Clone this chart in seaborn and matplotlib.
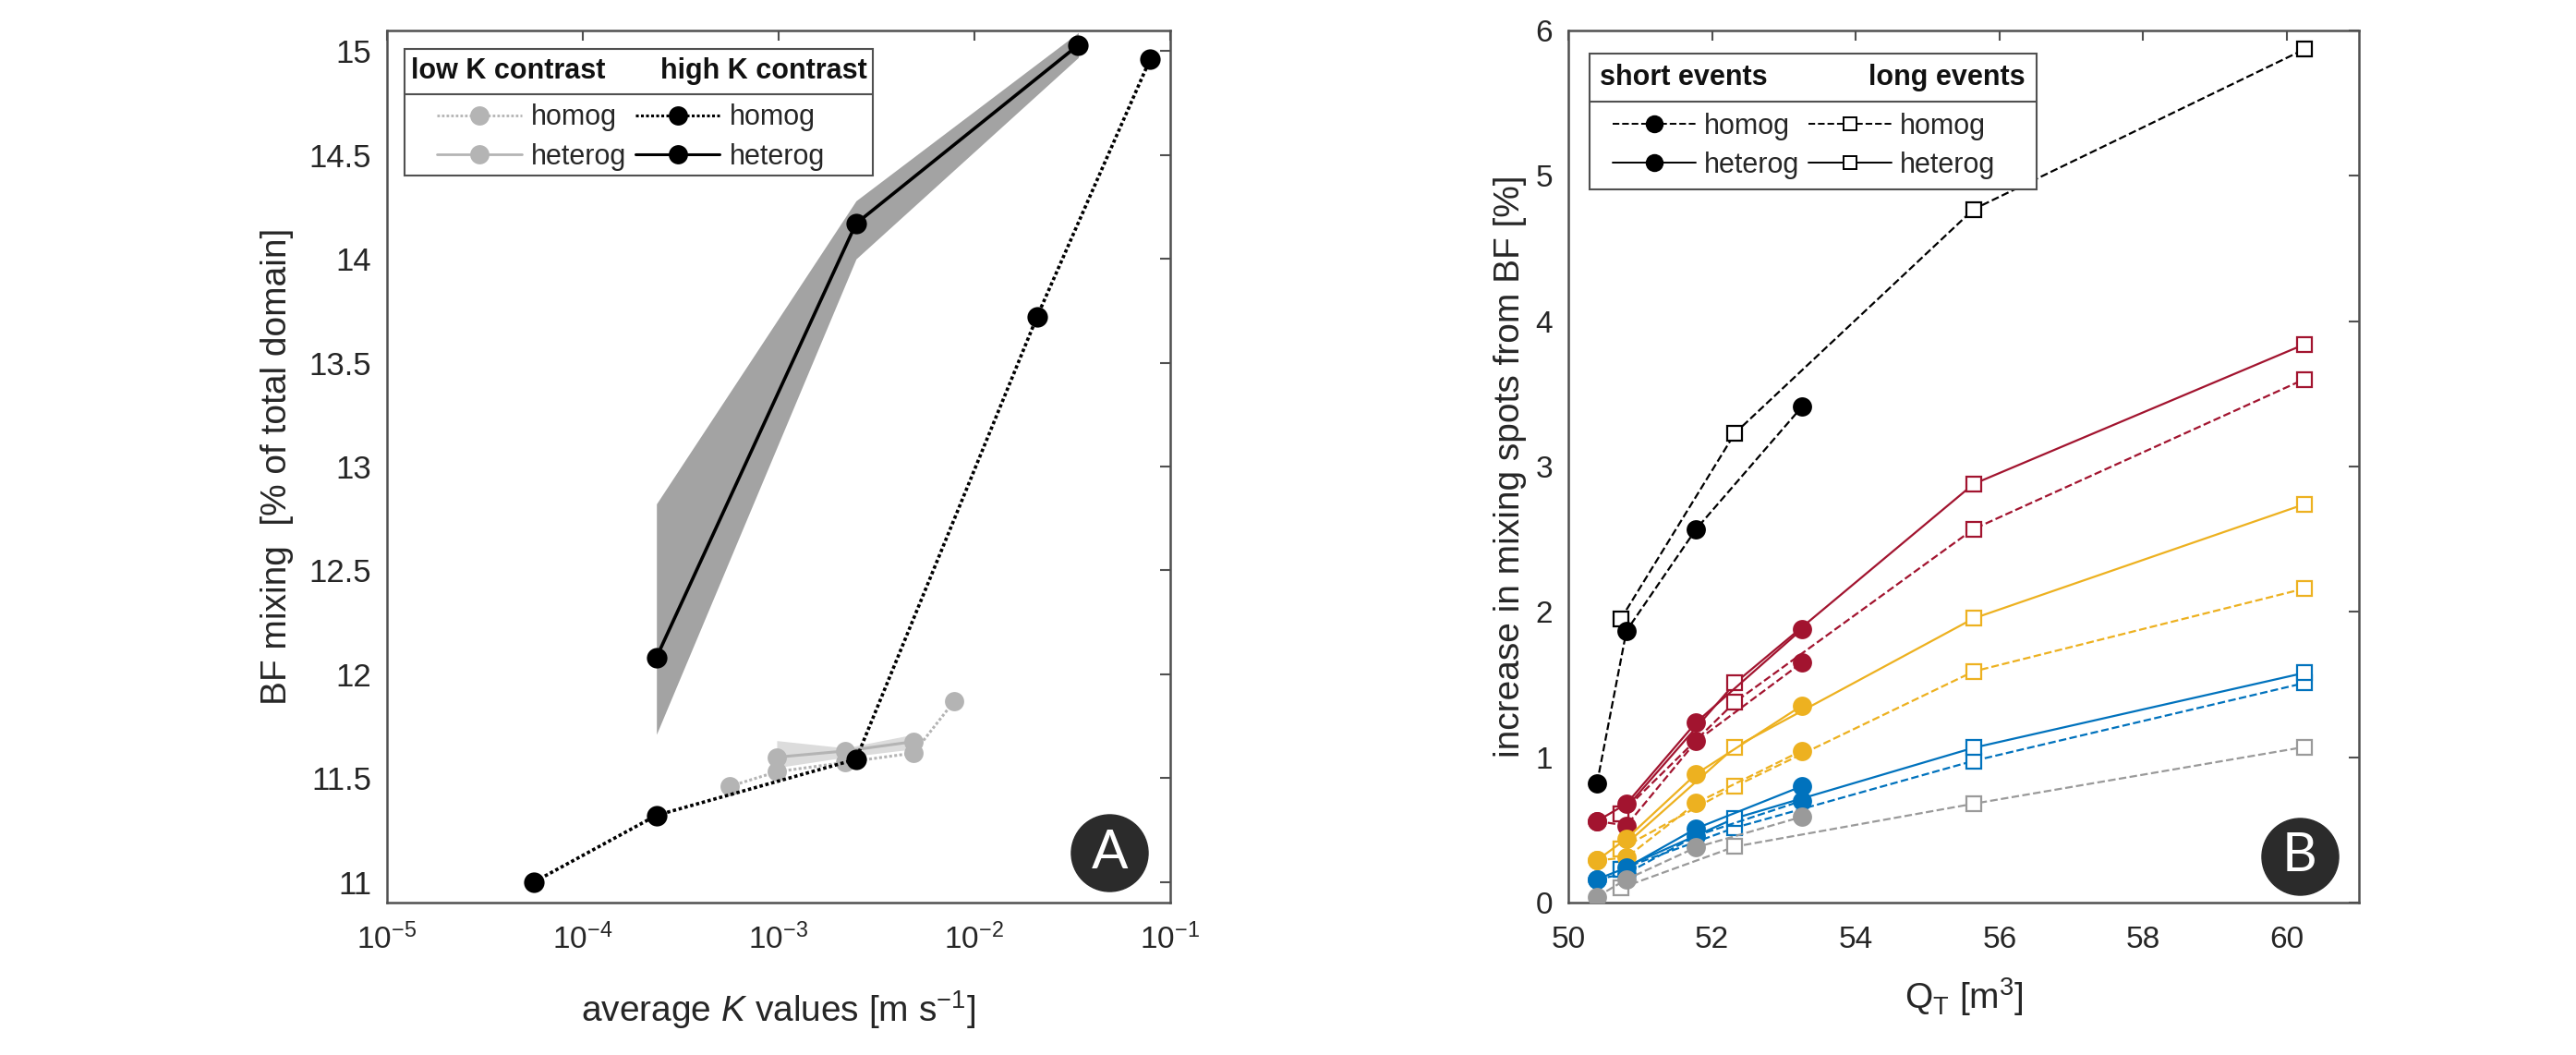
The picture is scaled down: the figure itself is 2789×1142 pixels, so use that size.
import numpy as np
import pandas as pd
import seaborn as sns
import matplotlib.pyplot as plt
from matplotlib.lines import Line2D
from matplotlib.patches import Rectangle
from matplotlib.ticker import FixedLocator, NullLocator, FuncFormatter, LogFormatterSciNotation

# -------------------------------
# Panel A data (average K vs BF mixing)
# -------------------------------
k_high_homog = [5.66e-5, 2.38e-4, 2.49e-3, 2.09e-2, 7.9e-2]
bf_high_homog = [11.00, 11.32, 11.59, 13.72, 14.96]
k_high_het = [2.38e-4, 2.49e-3, 3.4e-2]
bf_high_het = [12.08, 14.17, 15.03]
bf_high_het_lo = [11.71, 14.00, 14.97]
bf_high_het_hi = [12.82, 14.28, 15.09]

k_low_homog = [5.65e-4, 9.8e-4, 2.19e-3, 4.9e-3, 7.9e-3]
bf_low_homog = [11.46, 11.53, 11.575, 11.62, 11.87]
k_low_het = [9.8e-4, 2.19e-3, 4.9e-3]
bf_low_het = [11.60, 11.63, 11.675]
bf_low_het_lo = [11.55, 11.60, 11.64]
bf_low_het_hi = [11.68, 11.645, 11.71]

# -------------------------------
# Panel B data (Q_T vs increase in mixing spots)
# -------------------------------
qt_short = [50.40, 50.81, 51.78, 53.25]
qt_long = [50.73, 52.32, 55.64, 60.24]

black_short_homog = [0.82, 1.87, 2.57, 3.41]
black_long_homog = [1.95, 3.23, 4.77, 5.87]
red_short_homog = [0.56, 0.53, 1.11, 1.65]
red_short_het = [0.56, 0.68, 1.24, 1.88]
red_long_homog = [0.61, 1.38, 2.57, 3.60]
red_long_het = [0.61, 1.51, 2.88, 3.84]
yellow_short_homog = [0.29, 0.31, 0.685, 1.045]
yellow_short_het = [0.29, 0.44, 0.885, 1.355]
yellow_long_homog = [0.37, 0.80, 1.59, 2.16]
yellow_long_het = [0.37, 1.07, 1.955, 2.74]
blue_short_homog = [0.16, 0.20, 0.46, 0.70]
blue_short_het = [0.16, 0.24, 0.51, 0.80]
blue_long_homog = [0.23, 0.515, 0.975, 1.51]
blue_long_het = [0.23, 0.58, 1.065, 1.58]
grey_short_homog = [0.04, 0.16, 0.38, 0.59]
grey_long_homog = [0.10, 0.385, 0.68, 1.07]

# -------------------------------
# Style
# -------------------------------
sns.set_theme(style="white")
plt.rcParams['font.family'] = ['Liberation Sans', 'DejaVu Sans']
plt.rcParams['mathtext.fontset'] = 'custom'
plt.rcParams['mathtext.rm'] = 'Liberation Sans'
plt.rcParams['mathtext.it'] = 'Liberation Sans:italic'
plt.rcParams['axes.edgecolor'] = '#505050'
plt.rcParams['axes.linewidth'] = 1.8

frame_col = '#505050'
grey_mk = '#b4b4b4'
red = '#A2142F'
yellow = '#EDB120'
blue = '#0072BD'
grey_b = '#9a9a9a'
dotted = (0, (1.0, 0.8))

fig = plt.figure(figsize=(27.89, 11.42), dpi=100)
axA = fig.add_axes([0.1502, 0.1445, 0.3040, 0.8266])
axB = fig.add_axes([0.6088, 0.1445, 0.3069, 0.8266])


def style_axes(ax, xpad, ylabelsize):
    ax.tick_params(direction='in', length=8, width=1.5, color=frame_col,
                   top=True, right=True, labelsize=24, pad=12, labelcolor='#262626')
    ax.tick_params(axis='x', pad=xpad)
    ax.tick_params(axis='y', labelsize=ylabelsize)
    for s in ax.spines.values():
        s.set_color(frame_col)


def panel_badge(ax, x, y, letter):
    ax.scatter([x], [y], s=3576, color='#2b2b2b', transform=ax.transAxes, zorder=10, clip_on=False)
    ax.text(x, y, letter, transform=ax.transAxes, color='white', ha='center', va='center',
            fontsize=42, family=['Lato', 'DejaVu Sans'], zorder=11)


def legend_box(ax, x0, x1, y0, y1, ydiv, left_head, right_head, hx0, hx1, hy):
    ax.add_patch(Rectangle((x0, y0), x1 - x0, y1 - y0, transform=ax.transAxes,
                           facecolor='white', edgecolor=frame_col, lw=1.5, zorder=20))
    ax.plot([x0, x1], [ydiv, ydiv], transform=ax.transAxes, color=frame_col, lw=1.5, zorder=21)
    ax.text(hx0, hy, left_head, transform=ax.transAxes, ha='left', va='center',
            fontsize=22, fontweight='bold', color='#111111', zorder=22)
    ax.text(hx1, hy, right_head, transform=ax.transAxes, ha='right', va='center',
            fontsize=22, fontweight='bold', color='#111111', zorder=22)


# -------------------------------
# Panel A
# -------------------------------
axA.fill_between(k_high_het, bf_high_het_lo, bf_high_het_hi, color='#a3a3a3', lw=0, zorder=1)
axA.fill_between(k_low_het, bf_low_het_lo, bf_low_het_hi, color='#dcdcdc', lw=0, zorder=1)

sns.lineplot(x=k_low_homog, y=bf_low_homog, ax=axA, sort=False, color=grey_mk, linestyle=dotted,
             lw=2.2, marker='o', markersize=15, markeredgewidth=0, zorder=3)
sns.lineplot(x=k_low_het, y=bf_low_het, ax=axA, sort=False, color=grey_mk, linestyle='-',
             lw=2.2, marker='o', markersize=15, markeredgewidth=0, zorder=3)
sns.lineplot(x=k_high_het, y=bf_high_het, ax=axA, sort=False, color='black', linestyle='-',
             lw=2.6, marker='o', markersize=16, markeredgewidth=0, zorder=4)
sns.lineplot(x=k_high_homog, y=bf_high_homog, ax=axA, sort=False, color='black', linestyle=dotted,
             lw=2.6, marker='o', markersize=16, markeredgewidth=0, zorder=4)

axA.set_xscale('log')
axA.set_xlim(1e-5, 1e-1)
axA.set_ylim(10.9, 15.1)
axA.xaxis.set_major_locator(FixedLocator([1e-5, 1e-4, 1e-3, 1e-2, 1e-1]))
axA.xaxis.set_major_formatter(LogFormatterSciNotation())
axA.xaxis.set_minor_locator(NullLocator())
axA.yaxis.set_major_locator(FixedLocator(np.arange(11, 15.01, 0.5)))
axA.yaxis.set_major_formatter(FuncFormatter(lambda v, p: f'{v:g}'))
style_axes(axA, 16, 25)
axA.set_xlabel('average $K$ values [m s$^{\\mathregular{-1}}$]', fontsize=28, labelpad=26, color='#262626')
axA.set_ylabel('BF mixing  [% of total domain]', fontsize=28, labelpad=12, color='#262626')

legend_box(axA, 0.0224, 0.620, 0.834, 0.979, 0.927, 'low K contrast', 'high K contrast',
           0.031, 0.613, 0.953)
hA = [Line2D([], [], color=grey_mk, ls=dotted, lw=2.0, marker='o', ms=15, mew=0),
      Line2D([], [], color=grey_mk, ls='-', lw=2.0, marker='o', ms=15, mew=0),
      Line2D([], [], color='black', ls=dotted, lw=2.2, marker='o', ms=15, mew=0),
      Line2D([], [], color='black', ls='-', lw=2.2, marker='o', ms=15, mew=0)]
legA = axA.legend(hA, ['homog', 'heterog', 'homog', 'heterog'], ncol=2, frameon=False,
                  loc='upper left', bbox_to_anchor=(0.0637, 0.916), borderpad=0, borderaxespad=0,
                  fontsize=22, handlelength=3.0, handletextpad=0.35, columnspacing=0.3,
                  labelspacing=0.4)
legA.set_zorder(30)
panel_badge(axA, 0.923, 0.057, 'A')

# -------------------------------
# Panel B
# -------------------------------
long_series = [
    (black_long_homog, 'black', '--'),
    (red_long_homog, red, '--'), (red_long_het, red, '-'),
    (yellow_long_homog, yellow, '--'), (yellow_long_het, yellow, '-'),
    (blue_long_homog, blue, '--'), (blue_long_het, blue, '-'),
    (grey_long_homog, grey_b, '--'),
]
short_series = [
    (black_short_homog, 'black', '--'),
    (red_short_homog, red, '--'), (red_short_het, red, '-'),
    (yellow_short_homog, yellow, '--'), (yellow_short_het, yellow, '-'),
    (blue_short_homog, blue, '--'), (blue_short_het, blue, '-'),
    (grey_short_homog, grey_b, '--'),
]

for vals, col, ls in long_series:
    sns.lineplot(x=qt_long, y=vals, ax=axB, sort=False, color=col, linestyle=ls, lw=1.6,
                 marker='s', markersize=11, markerfacecolor='white', markeredgecolor=col,
                 markeredgewidth=1.6, zorder=3)
for vals, col, ls in short_series:
    sns.lineplot(x=qt_short, y=vals, ax=axB, sort=False, color=col, linestyle=ls, lw=1.6,
                 marker='o', markersize=15, markeredgewidth=0, zorder=4)

axB.set_xlim(50, 61)
axB.set_ylim(0, 6)
axB.xaxis.set_major_locator(FixedLocator(np.arange(50, 61, 2)))
axB.yaxis.set_major_locator(FixedLocator(np.arange(0, 7, 1)))
style_axes(axB, 18, 24)
axB.set_xlabel('Q$_{\\mathregular{T}}$ [m$^{\\mathregular{3}}$]', fontsize=28, labelpad=17, color='#262626')
axB.set_ylabel('increase in mixing spots from BF [%]', fontsize=28, labelpad=7, color='#262626')

legend_box(axB, 0.027, 0.592, 0.818, 0.974, 0.918, 'short events', 'long events',
           0.040, 0.578, 0.946)
hB = [Line2D([], [], color='black', ls='--', lw=1.4, marker='o', ms=14, mew=0),
      Line2D([], [], color='black', ls='-', lw=1.4, marker='o', ms=14, mew=0),
      Line2D([], [], color='black', ls='--', lw=1.4, marker='s', ms=10, mfc='white', mew=1.4),
      Line2D([], [], color='black', ls='-', lw=1.4, marker='s', ms=10, mfc='white', mew=1.4)]
legB = axB.legend(hB, ['homog', 'heterog', 'homog', 'heterog'], ncol=2, frameon=False,
                  loc='upper left', bbox_to_anchor=(0.056, 0.906), borderpad=0, borderaxespad=0,
                  fontsize=22, handlelength=2.95, handletextpad=0.3, columnspacing=0.3,
                  labelspacing=0.4)
legB.set_zorder(30)
panel_badge(axB, 0.925, 0.053, 'B')

fig.savefig('out.png', dpi=100, facecolor='white')
plt.close(fig)
